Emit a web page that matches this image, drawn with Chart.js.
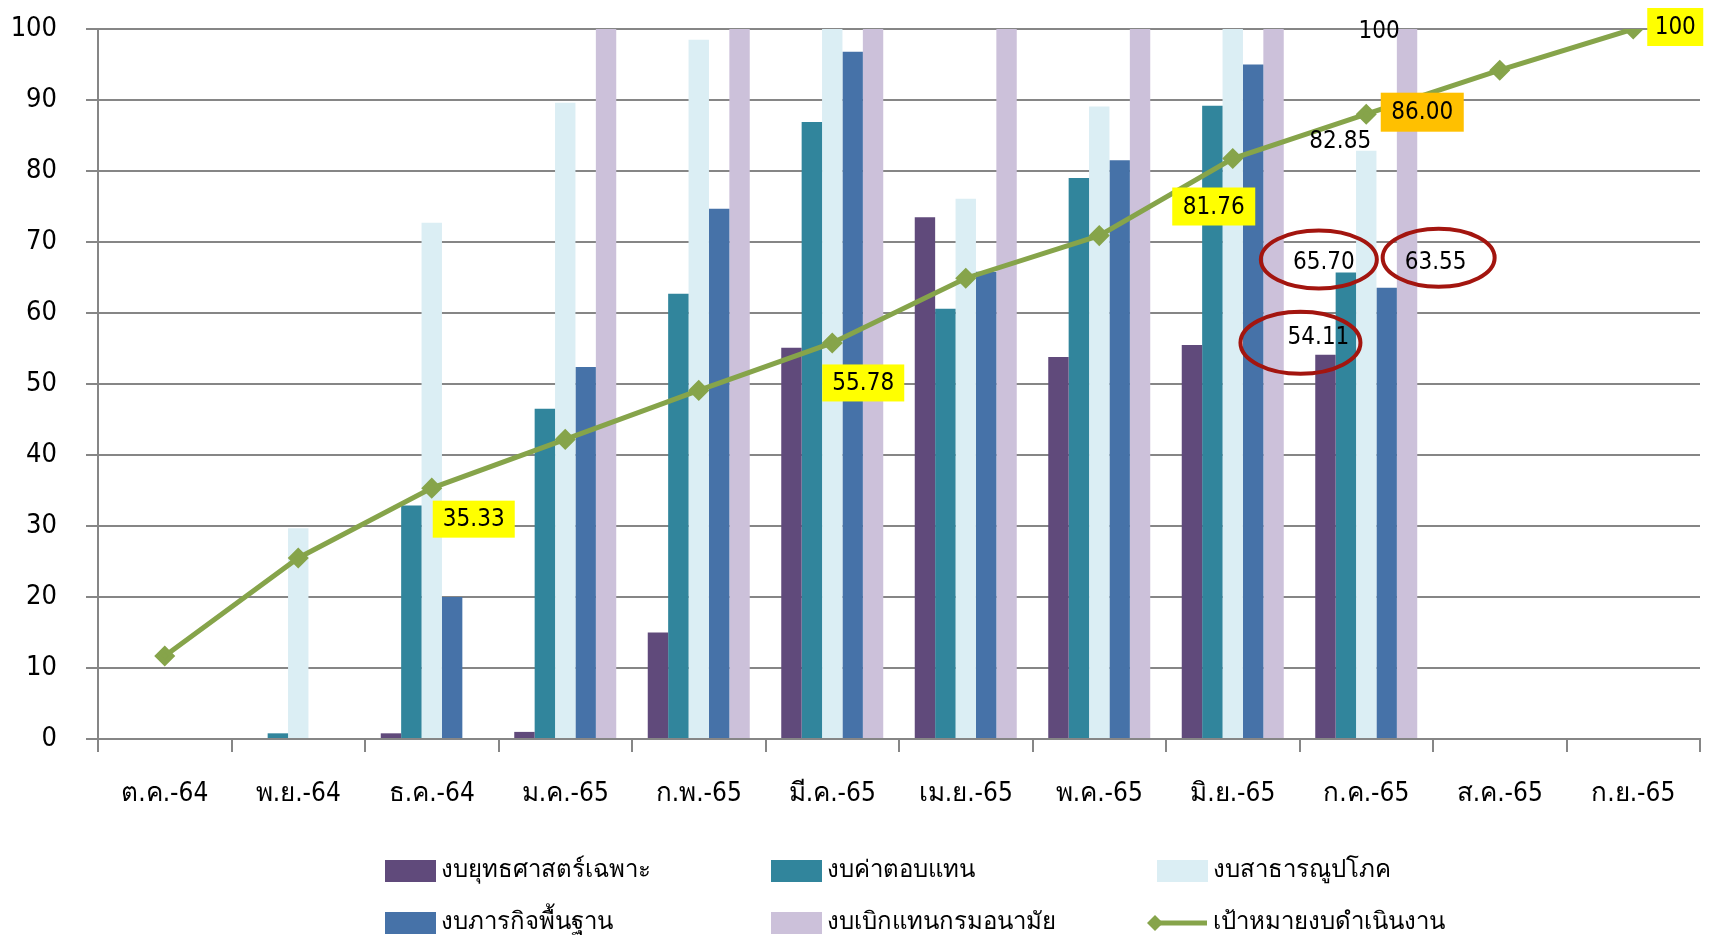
<!DOCTYPE html>
<html>
<head>
<meta charset="utf-8">
<script src="https://cdn.jsdelivr.net/npm/chart.js@4.4.0/dist/chart.umd.min.js"></script>
<style>
  html, body { margin: 0; padding: 0; background: #fff; }
  #wrap { width: 1712px; height: 937px; position: relative; }
</style>
</head>
<body>
<div id="wrap"><canvas id="budgetChart" width="1712" height="937"></canvas></div>
<script>
/* eslint-disable no-undef */
// เดือน (แกน x)
const months = ['ต.ค.-64', 'พ.ย.-64', 'ธ.ค.-64', 'ม.ค.-65', 'ก.พ.-65', 'มี.ค.-65', 'เม.ย.-65', 'พ.ค.-65', 'มิ.ย.-65', 'ก.ค.-65', 'ส.ค.-65', 'ก.ย.-65']
const yTicks = [0, 10, 20, 30, 40, 50, 60, 70, 80, 90, 100]

// ร้อยละการเบิกจ่ายแต่ละงบ
const strategic = [null, null, 0.8, 1.0, 15.0, 55.1, 73.5, 53.8, 55.5, 54.11, null, null]
const compensation = [null, 0.8, 32.9, 46.5, 62.7, 86.9, 60.6, 79.0, 89.2, 65.70, null, null]
const utilities = [null, 29.7, 72.7, 89.6, 98.5, 100, 76.1, 89.1, 100, 82.85, null, null]
const basicMission = [null, null, 20.0, 52.4, 74.7, 96.8, 65.8, 81.5, 95.0, 63.55, null, null]
const reimbursement = [null, null, null, 100, 100, 100, 100, 100, 100, 100, null, null]
// เป้าหมาย
const target = [11.7, 25.5, 35.33, 42.2, 49.1, 55.78, 64.9, 70.9, 81.76, 88.0, 94.2, 100]
const targetLabels = ['', '', '35.33', '', '', '55.78', '', '', '81.76', '86.00', '', '100']

const seriesNames = ['งบยุทธศาสตร์เฉพาะ', 'งบค่าตอบแทน', 'งบสาธารณูปโภค', 'งบภารกิจพื้นฐาน', 'งบเบิกแทนกรมอนามัย', 'เป้าหมายงบดำเนินงาน']
const seriesColors = ['#604A7B', '#31859C', '#DBEEF4', '#4672A8', '#CCC1DA', '#86A44A']

const numFont = "'DejaVu Sans Condensed', 'DejaVu Sans', sans-serif"
const thaiFont = "'DejaVu Sans Condensed', 'Noto Sans', sans-serif"

// กล่องป้ายค่าบนเส้นเป้าหมาย
const targetBoxes = [
  { i: 2, dx: 42, dy: 31, w: 82, h: 37, bg: '#FFFF00' },
  { i: 5, dx: 31, dy: 40, w: 82, h: 37, bg: '#FFFF00' },
  { i: 8, dx: -19, dy: 48, w: 83, h: 38, bg: '#FFFF00' },
  { i: 9, dx: 56, dy: -2, w: 83, h: 39, bg: '#FFC000' },
  { i: 11, dx: 42, dy: -2, w: 56, h: 38, bg: '#FFFF00' }
]
// ตัวเลขบนแท่ง ก.ค.-65
const barNotes = [
  { ds: 2, i: 9, dx: -26, dy: -9 },
  { ds: 4, i: 9, dx: -28, dy: 3, text: '100' },
  { ds: 1, i: 9, dx: -22, dy: -10, ring: { dx: -27, dy: -13, rx: 58, ry: 29 } },
  { ds: 3, i: 9, dx: 49, dy: -25, ring: { dx: 52, dy: -30, rx: 56, ry: 29 } },
  { ds: 0, i: 9, dx: -7, dy: -17, ring: { dx: -25, dy: -12, rx: 60, ry: 31 } }
]

const seriesData = [strategic, compensation, utilities, basicMission, reimbursement]

const notesPlugin = {
  id: 'notes',
  afterDatasetsDraw (chart) {
    const ctx = chart.ctx
    ctx.save()
    ctx.textAlign = 'center'
    ctx.textBaseline = 'middle'
    ctx.font = `24px ${numFont}`
    // วงรีสีแดง
    barNotes.forEach(n => {
      if (!n.ring) return
      const el = chart.getDatasetMeta(n.ds).data[n.i]
      ctx.beginPath()
      ctx.ellipse(el.x + n.ring.dx, el.y + n.ring.dy, n.ring.rx, n.ring.ry, 0, 0, Math.PI * 2)
      ctx.strokeStyle = '#A3150F'
      ctx.lineWidth = 4
      ctx.stroke()
    })
    barNotes.forEach(n => {
      const el = chart.getDatasetMeta(n.ds).data[n.i]
      const v = seriesData[n.ds][n.i]
      const txt = n.text || v.toFixed(2)
      ctx.fillStyle = '#000'
      ctx.fillText(txt, el.x + n.dx, el.y + n.dy)
    })
    const lineMeta = chart.getDatasetMeta(5)
    targetBoxes.forEach(b => {
      const pt = lineMeta.data[b.i]
      const cx = pt.x + b.dx
      const cy = pt.y + b.dy
      ctx.fillStyle = b.bg
      ctx.fillRect(cx - b.w / 2, cy - b.h / 2, b.w, b.h)
      ctx.fillStyle = '#000'
      ctx.fillText(targetLabels[b.i], cx, cy + 1)
    })
    ctx.restore()
  },
  afterDraw (chart) {
    // legend 3 คอลัมน์
    const ctx = chart.ctx
    const cols = [385, 771, 1157]
    const rows = [871, 923]
    ctx.save()
    ctx.font = `24px ${thaiFont}`
    ctx.textBaseline = 'middle'
    ctx.textAlign = 'left'
    seriesNames.forEach((name, k) => {
      const x = cols[k % 3]
      const y = rows[Math.floor(k / 3)]
      if (k < 5) {
        ctx.fillStyle = seriesColors[k]
        ctx.fillRect(x, y - 11, 51, 22)
      } else {
        ctx.strokeStyle = seriesColors[k]
        ctx.lineWidth = 5
        ctx.beginPath()
        ctx.moveTo(x - 6, y)
        ctx.lineTo(x + 50, y)
        ctx.stroke()
        ctx.fillStyle = seriesColors[k]
        ctx.beginPath()
        ctx.moveTo(x - 10, y)
        ctx.lineTo(x - 2, y - 8)
        ctx.lineTo(x + 6, y)
        ctx.lineTo(x - 2, y + 8)
        ctx.closePath()
        ctx.fill()
      }
      ctx.fillStyle = '#000'
      ctx.fillText(name, x + 56, y)
    })
    ctx.restore()
  }
}

const barSets = seriesData.map((d, k) => ({
  type: 'bar',
  label: seriesNames[k],
  data: d,
  backgroundColor: seriesColors[k],
  borderWidth: 0,
  categoryPercentage: 0.764,
  barPercentage: 1.0,
  order: 2
}))

const chart = new Chart(document.getElementById('budgetChart').getContext('2d'), {
  type: 'bar',
  data: {
    labels: months,
    datasets: [...barSets, {
      type: 'line',
      label: seriesNames[5],
      data: target,
      borderColor: seriesColors[5],
      backgroundColor: seriesColors[5],
      borderWidth: 5,
      pointStyle: 'rectRot',
      pointRadius: 7,
      pointHoverRadius: 7,
      tension: 0,
      order: 1
    }]
  },
  options: {
    responsive: false,
    animation: false,
    layout: { padding: { top: 29, right: 12, left: 0, bottom: 0 } },
    plugins: {
      legend: { display: false },
      tooltip: { enabled: false }
    },
    scales: {
      x: {
        grid: { display: true, drawOnChartArea: false, drawTicks: true, tickLength: 13, color: '#868686', lineWidth: 2, offset: true },
        border: { color: '#868686', width: 2 },
        ticks: { color: '#000', font: { size: 26, family: thaiFont }, padding: 27, maxRotation: 0 },
        afterFit: (s) => { s.height = 198 }
      },
      y: {
        min: 0,
        max: 100,
        afterBuildTicks: (s) => { s.ticks = yTicks.map(v => ({ value: v })) },
        grid: { color: '#868686', lineWidth: 2, tickLength: 12 },
        border: { color: '#868686', width: 2 },
        ticks: { color: '#000', font: { size: 27, family: numFont }, padding: 29 },
        afterFit: (s) => {
          s.width = 98
          s.paddingTop = 0
          s.paddingBottom = 0
        }
      }
    }
  },
  plugins: [notesPlugin]
})
</script>
</body>
</html>
